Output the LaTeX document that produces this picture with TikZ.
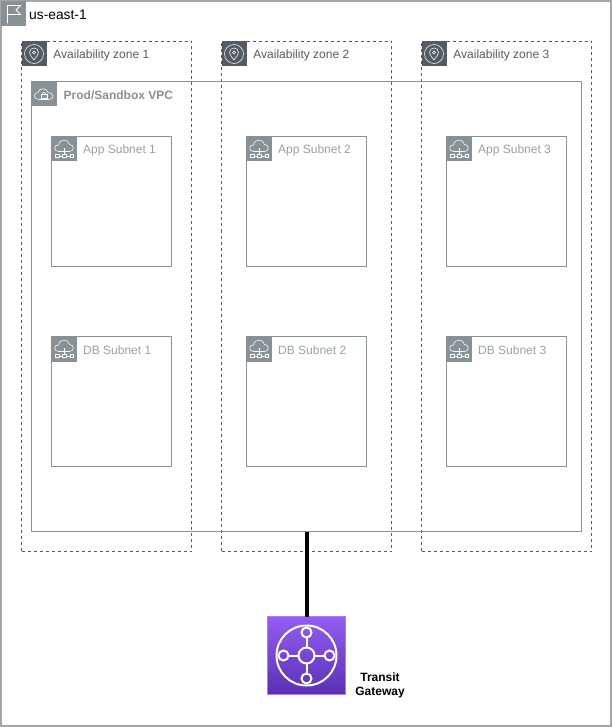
\documentclass[tikz,border=0pt]{standalone}
\usepackage{fontspec}
\setmainfont{Liberation Sans}
\usetikzlibrary{calc}
\definecolor{awsgrey}{HTML}{879196}
\definecolor{awsdark}{HTML}{545B64}
\definecolor{regionline}{HTML}{A6A6A6}
\definecolor{tgwtop}{HTML}{945DF2}
\definecolor{tgwbot}{HTML}{5A30B5}
\tikzset{
  x=1pt,y=-1pt,
  regionbox/.style={draw=regionline,line width=2pt,anchor=north west,inner sep=0pt,outer sep=0pt,minimum width=610pt,minimum height=725pt},
  azbox/.style={draw=awsdark,line width=0.7pt,dash pattern=on 3pt off 3pt,anchor=north west,inner sep=0pt,outer sep=0pt,minimum width=170pt,minimum height=510pt},
  vpcbox/.style={draw=awsgrey,line width=0.8pt,anchor=north west,inner sep=0pt,outer sep=0pt,minimum width=550pt,minimum height=450pt},
  subnetbox/.style={draw=awsgrey,line width=0.8pt,anchor=north west,inner sep=0pt,outer sep=0pt,minimum width=120pt,minimum height=130pt},
  tag/.style={anchor=north west,inner sep=0pt,outer sep=0pt,minimum size=25pt,fill=#1},
  iconline/.style={draw=white,line width=0.55pt,fill=none},
  grouplabel/.style={anchor=west,inner sep=0pt,font=\fontsize{12}{14}\selectfont,text=#1},
  link/.style={draw=black,line width=4pt},
  tgwbox/.style={anchor=north west,inner sep=0pt,outer sep=0pt,minimum size=78pt,top color=tgwtop,bottom color=tgwbot,draw=tgwtop!80!white,line width=0.5pt},
  tgwlabel/.style={align=center,inner sep=0pt,font=\bfseries\fontsize{12}{14}\selectfont,text=black},
}
% AZ tag with pin icon: #1 name, #2 x, #3 y, #4 text
\newcommand{\azgroup}[4]{%
  \node[azbox] (#1) at (#2,#3) {};
  \node[tag=awsdark] (#1tag) at (#2,#3) {};
  \begin{scope}[shift={(#1tag.center)}]
    \draw[iconline] (0,0) circle (9.5);
    \draw[iconline] (0,6) .. controls (-2,3) and (-4.5,1) .. (-4.5,-1.5) .. controls (-4.5,-7.5) and (4.5,-7.5) .. (4.5,-1.5) .. controls (4.5,1) and (2,3) .. (0,6) -- cycle;
    \draw[iconline] (0,-1.5) circle (1.6);
  \end{scope}
  \node[grouplabel=awsdark] (#1label) at (#2+31.7,#3+14) {#4};
}
% subnet: #1 name, #2 x, #3 y, #4 text
\newcommand{\subnetgroup}[4]{%
  \node[subnetbox] (#1) at (#2,#3) {};
  \node[tag=awsgrey] (#1tag) at (#2,#3) {};
  \begin{scope}[shift={(#1tag.center)}]
    \draw[iconline] (-5.5,2.5) .. controls (-11,2.5) and (-10,-4.5) .. (-5.5,-4) .. controls (-4.5,-10.5) and (4.5,-10.5) .. (5.5,-4.5) .. controls (10,-4.5) and (11,2.5) .. (5.5,2.5) -- cycle;
    \draw[iconline] (0,-1) -- (0,5.5) (-5,7) -- (-2,7) (2,7) -- (6,7);
    \draw[iconline] (-8.5,5.5) rectangle (-5,8.5) (-2,5.5) rectangle (2,8.5) (6,5.5) rectangle (9.5,8.5);
  \end{scope}
  \node[grouplabel=awsgrey!85!white] (#1label) at (#2+31.5,#3+14) {#4};
}
\begin{document}
\begin{tikzpicture}
\useasboundingbox (0,0) rectangle (612,727);
\fill[white] (0,0) rectangle (612,727);
% region
\node[regionbox] (region) at (1,1) {};
\node[tag=awsgrey] (regiontag) at (1,1) {};
\begin{scope}[shift={(regiontag.center)}]
  \draw[draw=white,line width=0.8pt,fill=none] (-6,10) -- (-6,-8) -- (7,-8) -- (2.5,-3.5) -- (7,1) -- (-6,1);
\end{scope}
\node[anchor=west,inner sep=0pt,font=\fontsize{13.8}{15}\selectfont] (regionlabel) at (29,14.5) {us-east-1};
% availability zones
\azgroup{azone}{21.5}{41.5}{Availability zone 1}
\azgroup{aztwo}{221.5}{41.5}{Availability zone 2}
\azgroup{azthree}{421.5}{41.5}{Availability zone 3}
% VPC
\node[vpcbox] (vpc) at (31.5,81.5) {};
\node[tag=awsgrey] (vpctag) at (31.5,81.5) {};
\begin{scope}[shift={(vpctag.center)}]
  \draw[iconline] (-5,5.5) .. controls (-11,5.5) and (-11,-1.5) .. (-6,-1.5) .. controls (-5,-6.5) and (3,-6.5) .. (4,-1.5) .. controls (10,-2) and (11,5.5) .. (5,5.5) -- cycle;
  \draw[iconline] (-2.8,0.5) rectangle (2.8,3.8);
  \draw[iconline] (-1.6,0.5) .. controls (-1.6,-2.5) and (1.6,-2.5) .. (1.6,0.5);
\end{scope}
\node[grouplabel=awsgrey,font=\bfseries\fontsize{12}{14}\selectfont] (vpclabel) at (63.5,95) {Prod/Sandbox VPC};
% subnets
\subnetgroup{appone}{51.5}{136.5}{App Subnet 1}
\subnetgroup{apptwo}{246.5}{136.5}{App Subnet 2}
\subnetgroup{appthree}{446.5}{136.5}{App Subnet 3}
\subnetgroup{dbone}{51.5}{336.5}{DB Subnet 1}
\subnetgroup{dbtwo}{246.5}{336.5}{DB Subnet 2}
\subnetgroup{dbthree}{446.5}{336.5}{DB Subnet 3}
% transit gateway
\node[tgwbox] (tgw) at (267.5,616.5) {};
\begin{scope}[shift={(tgw.center)},every path/.style={draw=white,line width=2pt,fill=none}]
  \path (0,0) circle (30);
  \path (0,0) circle (8);
  \path (0,-23) circle (5);
  \path (0,23) circle (5);
  \path (-23,0) circle (5);
  \path (23,0) circle (5);
  \path (0,-8) -- (0,-18);
  \path (0,8) -- (0,18);
  \path (-8,0) -- (-18,0);
  \path (8,0) -- (18,0);
\end{scope}
\node[tgwlabel] (tgwlabel) at (380,685) {Transit\\Gateway};
\draw[link] (vpc.south) -- (tgw.north);
\end{tikzpicture}
\end{document}
